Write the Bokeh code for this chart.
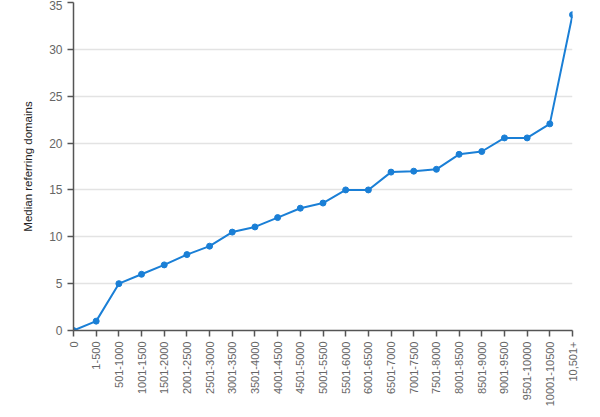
from bokeh.plotting import figure
from bokeh.models import ColumnDataSource, Range1d, FixedTicker
from bokeh.embed import file_html
from bokeh.resources import INLINE

# backlink buckets and median referring domains
buckets = ["0", "1-500", "501-1000", "1001-1500", "1501-2000", "2001-2500",
           "2501-3000", "3001-3500", "3501-4000", "4001-4500", "4501-5000",
           "5001-5500", "5501-6000", "6001-6500", "6501-7000", "7001-7500",
           "7501-8000", "8001-8500", "8501-9000", "9001-9500", "9501-10000",
           "10001-10500", "10,501+"]
median_domains = [0, 1, 5, 6, 7, 8.1, 9, 10.5, 11.05, 12.05, 13.05, 13.6,
                  15, 15, 16.9, 17.0, 17.2, 18.8, 19.1, 20.55, 20.55, 22.05, 33.7]
y_ticks = [0, 5, 10, 15, 20, 25, 30, 35]

LINE = "#1a7fd6"
FONT = "Liberation Sans"

idx = list(range(len(buckets)))
src = ColumnDataSource(dict(x=idx, y=median_domains))

p = figure(width=592, height=409, output_backend="svg", toolbar_location=None,
           x_range=Range1d(0, len(buckets) - 1), y_range=Range1d(0, 35),
           min_border_left=73, min_border_right=20, min_border_top=2)
p.outline_line_color = None

p.line("x", "y", source=src, line_color=LINE, line_width=2)
p.scatter("x", "y", source=src, size=6, fill_color=LINE, line_color=LINE)

# x axis: one tick per bucket, labels running bottom-to-top
p.xaxis.ticker = FixedTicker(ticks=idx)
p.xaxis.major_label_overrides = {i: b for i, b in enumerate(buckets)}
p.xaxis.major_label_orientation = 1.5708
p.xgrid.visible = False

p.yaxis.ticker = FixedTicker(ticks=y_ticks)
p.yaxis.axis_label = "Median referring domains"
p.ygrid.grid_line_color = "#e3e3e3"
p.ygrid.grid_line_width = 1.5

for ax in (p.xaxis, p.yaxis):
    ax.axis_line_color = "#555555"
    ax.axis_line_width = 1.5
    ax.major_tick_line_color = "#555555"
    ax.major_tick_line_width = 1.5
    ax.major_tick_in = 0
    ax.major_tick_out = 6
    ax.minor_tick_line_color = None
    ax.major_label_text_font = FONT
    ax.major_label_text_font_size = "11px"
    ax.major_label_text_color = "#666666"
    ax.axis_label_text_font = FONT
    ax.axis_label_text_font_size = "11.5px"
    ax.axis_label_text_font_style = "normal"
    ax.axis_label_text_color = "#222222"

p.yaxis.major_label_text_font_size = "12px"
p.yaxis.axis_label_standoff = 12

open("out.html", "w").write(file_html(p, INLINE))
